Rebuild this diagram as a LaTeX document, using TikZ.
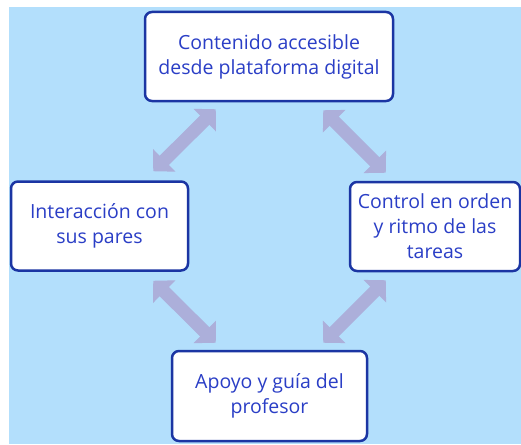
\documentclass[tikz,border=0pt]{standalone}
\usepackage{fontspec}
\setmainfont{Open Sans}
\usetikzlibrary{arrows.meta,calc}
\definecolor{bgblue}{HTML}{B3DFFC}
\definecolor{boxline}{HTML}{1B35A3}
\definecolor{boxtext}{HTML}{2A3EC6}
\definecolor{linklav}{HTML}{ACAFDA}
\tikzset{
  stagebox/.style={draw=boxline, line width=2.5pt, fill=white, rounded corners=7pt,
    text=boxtext, align=center, inner sep=0pt, minimum height=89pt,
    font=\fontsize{19.5}{25}\selectfont},
  swaplink/.style={linklav, line width=13pt,
    {Triangle[length=15.5pt,width=31pt]}-{Triangle[length=15.5pt,width=31pt]}}
}

\begin{document}
\begin{tikzpicture}[x=1pt,y=-1pt]
 \useasboundingbox (0,0) rectangle (521,444);
 \fill[white] (0,0) rectangle (521,444);
 \fill[bgblue] (9,7) rectangle (521,444);
 % the four stages
 \node[stagebox, minimum width=248pt] (top) at (269,56.5) {Contenido accesible\\desde plataforma digital};
 \node[stagebox, minimum width=177pt] (left) at (99.5,226) {Interacción con\\sus pares};
 \node[stagebox, minimum width=170pt] (right) at (435,226.5) {Control en orden\\y ritmo de las\\tareas};
 \node[stagebox, minimum width=195pt, minimum height=90pt] (bottom) at (269.5,396) {Apoyo y guía del\\profesor};
 % arrow ends
 \coordinate (tl) at ($(top.south west)+(72,7)$);
 \coordinate (tr) at ($(top.south east)+(-71,8)$);
 \coordinate (lt) at ($(left.north east)+(-36,-9)$);
 \coordinate (lb) at ($(left.south east)+(-36,9)$);
 \coordinate (rt) at ($(right.north west)+(37,-8)$);
 \coordinate (rb) at ($(right.south west)+(37,8)$);
 \coordinate (bl) at ($(bottom.north west)+(45,-7)$);
 \coordinate (br) at ($(bottom.north east)+(-45,-7)$);
 \draw[swaplink] (tl) -- (lt);
 \draw[swaplink] (tr) -- (rt);
 \draw[swaplink] (lb) -- (bl);
 \draw[swaplink] (rb) -- (br);
\end{tikzpicture}
\end{document}
